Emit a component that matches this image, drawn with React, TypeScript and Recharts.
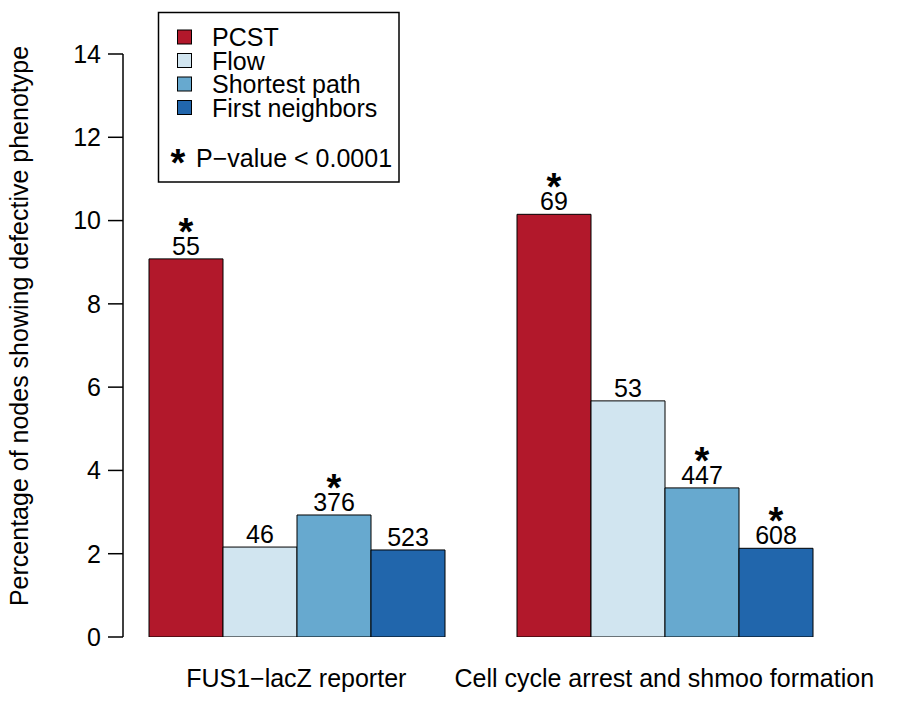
import React from "react";
import { BarChart, Bar, XAxis, YAxis, LabelList } from "recharts";

const groups = ["FUS1\u2212lacZ reporter", "Cell cycle arrest and shmoo formation"];
const methods = ["PCST", "Flow", "Shortest path", "First neighbors"];
const colors = ["#B2182B", "#D1E5F0", "#67A9CF", "#2166AC"];

// percentages per method, one value per group
const pcst = [9.08, 10.15];
const flow = [2.16, 5.67];
const shortest = [2.93, 3.58];
const firstNeighbors = [2.09, 2.13];

// node counts shown above the bars
const pcstCounts = [55, 69];
const flowCounts = [46, 53];
const shortestCounts = [376, 447];
const firstNeighborsCounts = [523, 608];

// significance marks (P < 0.0001)
const pcstSig = [true, true];
const flowSig = [false, false];
const shortestSig = [true, true];
const firstNeighborsSig = [false, true];

const yTicks = [0, 2, 4, 6, 8, 10, 12, 14];

const keys = ["pcst", "flow", "shortest", "firstNeighbors"];
const counts = [pcstCounts, flowCounts, shortestCounts, firstNeighborsCounts];
const sigs = [pcstSig, flowSig, shortestSig, firstNeighborsSig];

const data = groups.map((g, i) => ({
  group: g,
  pcst: pcst[i],
  flow: flow[i],
  shortest: shortest[i],
  firstNeighbors: firstNeighbors[i],
}));

const FONT = "'Liberation Sans', Arial, Helvetica, sans-serif";
const FS = 25;
const STAR = 38;

function makeLabel(series: number) {
  return (props: any) => {
    const { x, y, width, index } = props;
    const cx = Number(x) + Number(width) / 2;
    const top = Number(y);
    return (
      <g>
        <text x={cx} y={top - 4} textAnchor="middle" fontSize={FS} fontFamily={FONT} fill="#000">
          {counts[series][index]}
        </text>
        {sigs[series][index] && (
          <text
            x={cx}
            y={top - 14}
            textAnchor="middle"
            fontSize={STAR}
            fontWeight="bold"
            fontFamily={FONT}
            fill="#000"
          >
            *
          </text>
        )}
      </g>
    );
  };
}

function YTitle() {
  return (
    <text
      transform="translate(28, 326) rotate(-90)"
      textAnchor="middle"
      fontSize={FS}
      fontFamily={FONT}
      fill="#000"
    >
      Percentage of nodes showing defective phenotype
    </text>
  );
}

function LegendBox() {
  const rowY = [37, 60.5, 84, 107.5];
  return (
    <g fontFamily={FONT} fontSize={FS} fill="#000">
      <rect x={158.5} y={12.5} width={240.5} height={169.5} fill="#fff" stroke="#000" strokeWidth={1.5} />
      {methods.map((m, i) => (
        <g key={m}>
          <rect x={177.5} y={rowY[i] - 7} width={14} height={14} fill={colors[i]} stroke="#000" strokeWidth={1} />
          <text x={212} y={rowY[i] + 9}>
            {m}
          </text>
        </g>
      ))}
      <text x={178} y={176} textAnchor="middle" fontSize={STAR} fontWeight="bold">
        *
      </text>
      <text x={196} y={167}>
        P{"\u2212"}value {"<"} 0.0001
      </text>
    </g>
  );
}

export default function App() {
  return (
    <div
      style={{
        position: "absolute",
        left: 0,
        top: 0,
        width: 900,
        height: 704,
        background: "#fff",
      }}
    >
      <BarChart
        width={900}
        height={704}
        data={data}
        margin={{ top: 54, right: 62, left: 63, bottom: 7 }}
        barCategoryGap={36.75}
        barGap={0}
      >
        <XAxis
          dataKey="group"
          height={60}
          axisLine={false}
          tickLine={false}
          padding={{ left: -10.75, right: -10.25 }}
          tick={{ fontSize: FS, fill: "#000", fontFamily: FONT }}
          tickMargin={26}
          interval={0}
        />
        <YAxis
          width={60}
          domain={[0, 14]}
          ticks={yTicks}
          allowDataOverflow
          tickSize={15}
          tickMargin={7}
          axisLine={{ stroke: "#000", strokeWidth: 1.5 }}
          tickLine={{ stroke: "#000", strokeWidth: 1.5 }}
          tick={{ fontSize: FS, fill: "#000", fontFamily: FONT }}
        />
        {keys.map((k, i) => (
          <Bar
            key={k}
            dataKey={k}
            name={methods[i]}
            fill={colors[i]}
            stroke="#000"
            strokeWidth={1}
            isAnimationActive={false}
          >
            <LabelList dataKey={k} content={makeLabel(i)} />
          </Bar>
        ))}
        <YTitle />
        <LegendBox />
      </BarChart>
    </div>
  );
}
